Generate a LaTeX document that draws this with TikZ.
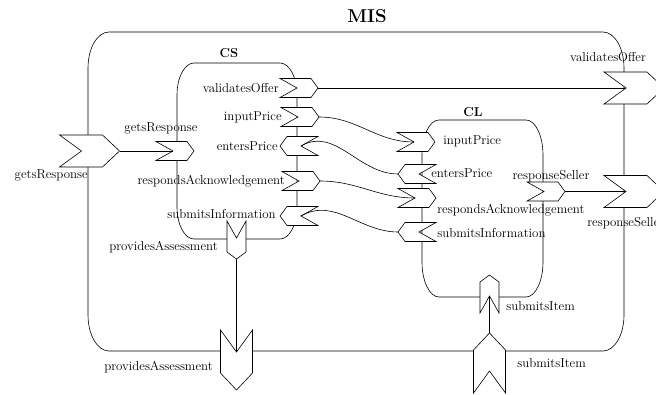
\documentclass[tikz,border=0pt]{standalone}
\newcommand{\sysbox}[6]{%
    \draw (#1,#2+#6) arc[start angle=180,end angle=270,x radius=#5,y radius=#6]
        -- (#3-#5,#2) arc[start angle=270,end angle=360,x radius=#5,y radius=#6]
        -- (#3,#4-#6) arc[start angle=0,end angle=90,x radius=#5,y radius=#6]
        -- (#1+#5,#4) arc[start angle=90,end angle=180,x radius=#5,y radius=#6]
        -- cycle;}
\newcommand{\port}[4]{%
    \begin{scope}[shift={(#2)},rotate=#3,#4]
        \draw[fill=white] (-\portlen,-\portwid) -- (\portlen-\porttip,-\portwid) -- (\portlen,0)
            -- (\portlen-\porttip,\portwid) -- (-\portlen,\portwid) -- (-\portlen+\portnotch,0) -- cycle;
        \coordinate (#1) at (0,0);
        \coordinate (#1 tip) at (\portlen,0);
        \coordinate (#1 notch) at (-\portlen+\portnotch,0);
    \end{scope}}
\begin{document}
\begin{tikzpicture}[x=1pt,y=-1pt,line width=0.6pt,
    font=\fontsize{12.9}{15}\selectfont,
    smallport/.code={\def\portlen{19}\def\portwid{9.5}\def\portnotch{17}\def\porttip{7}},
    bigport/.code={\def\portlen{30}\def\portwid{16}\def\portnotch{22}\def\porttip{17}},
    lbl/.style={inner sep=1pt},
    ttl/.style={inner sep=1pt,font=\fontsize{12.9}{15}\selectfont\bfseries}]
    \useasboundingbox (0,0) rectangle (656,394);
    \sysbox{88}{32}{624}{351}{21}{36}
    \sysbox{177}{63}{297}{239}{17}{32}
    \sysbox{422}{120}{543}{297}{17}{35}
    \node[ttl,font=\fontsize{18.6}{22}\selectfont\bfseries] (mis) at (367,16) {MIS};
    \node[ttl] (cs) at (229,53) {CS};
    \node[ttl] (cl) at (473,112) {CL};
    \port{misGet}{89.5,151}{0}{bigport}
    \port{misVal}{634,88}{0}{bigport}
    \port{misResp}{634,191.5}{0}{bigport}
    \port{misProv}{236.5,360}{-90}{bigport}
    \port{misItem}{489.5,363}{90}{bigport}
    \port{csGet}{175,151}{0}{smallport}
    \port{csVal}{299,88}{0}{smallport}
    \port{csPrice}{300,117}{0}{smallport}
    \port{csEnt}{299,146}{180}{smallport}
    \port{csResp}{301,181}{0}{smallport}
    \port{csSub}{299,216}{180}{smallport}
    \port{csProv}{236.5,240}{-90}{smallport}
    \port{clPrice}{416,142}{0}{smallport}
    \port{clEnt}{417,174}{180}{smallport}
    \port{clResp}{417,198}{0}{smallport}
    \port{clSub}{417,232}{180}{smallport}
    \port{clSeller}{546,191.5}{0}{smallport}
    \port{clItem}{489.5,294}{90}{smallport}
    \draw (misGet tip) -- (csGet notch);
    \draw (csVal tip) -- (misVal notch);
    \draw (csPrice tip) to[out=0,in=180] (clPrice notch);
    \draw (clEnt tip) to[out=180,in=30] (csEnt notch);
    \draw (csResp tip) to[out=0,in=180] (clResp notch);
    \draw (clSub tip) to[out=180,in=30] (csSub notch);
    \draw (csProv tip) -- (misProv notch);
    \draw (misItem tip) -- (clItem notch);
    \draw (clSeller tip) -- (misResp notch);
    \node[lbl,anchor=east] (misGetL) at (89,175) {getsResponse};
    \node[lbl] (csGetL) at (161,128) {getsResponse};
    \node[lbl,anchor=east] (csValL) at (280,88) {validatesOffer};
    \node[lbl,anchor=east] (csPriceL) at (283,117) {inputPrice};
    \node[lbl,anchor=east] (csEntL) at (279,146) {entersPrice};
    \node[lbl,anchor=east] (csRespL) at (286,181) {respondsAcknowledgement};
    \node[lbl,anchor=east] (csSubL) at (277,214) {submitsInformation};
    \node[lbl,anchor=east] (csProvL) at (219,247) {providesAssessment};
    \node[lbl,anchor=west] (clPriceL) at (442,141) {inputPrice};
    \node[lbl,anchor=west] (clEntL) at (430,173) {entersPrice};
    \node[lbl,anchor=west] (clRespL) at (436,210) {respondsAcknowledgement};
    \node[lbl,anchor=west] (clSubL) at (436,233) {submitsInformation};
    \node[lbl] (clSellerL) at (551,176) {responseSeller};
    \node[lbl,anchor=west] (clItemL) at (505,306) {submitsItem};
    \node[lbl] (misValL) at (608,57) {validatesOffer};
    \node[lbl,anchor=west] (misRespL) at (586,223) {responseSeller};
    \node[lbl,anchor=west] (misItemL) at (516,363) {submitsItem};
    \node[lbl,anchor=east] (misProvL) at (214,367) {providesAssessment};
\end{tikzpicture}
\end{document}
